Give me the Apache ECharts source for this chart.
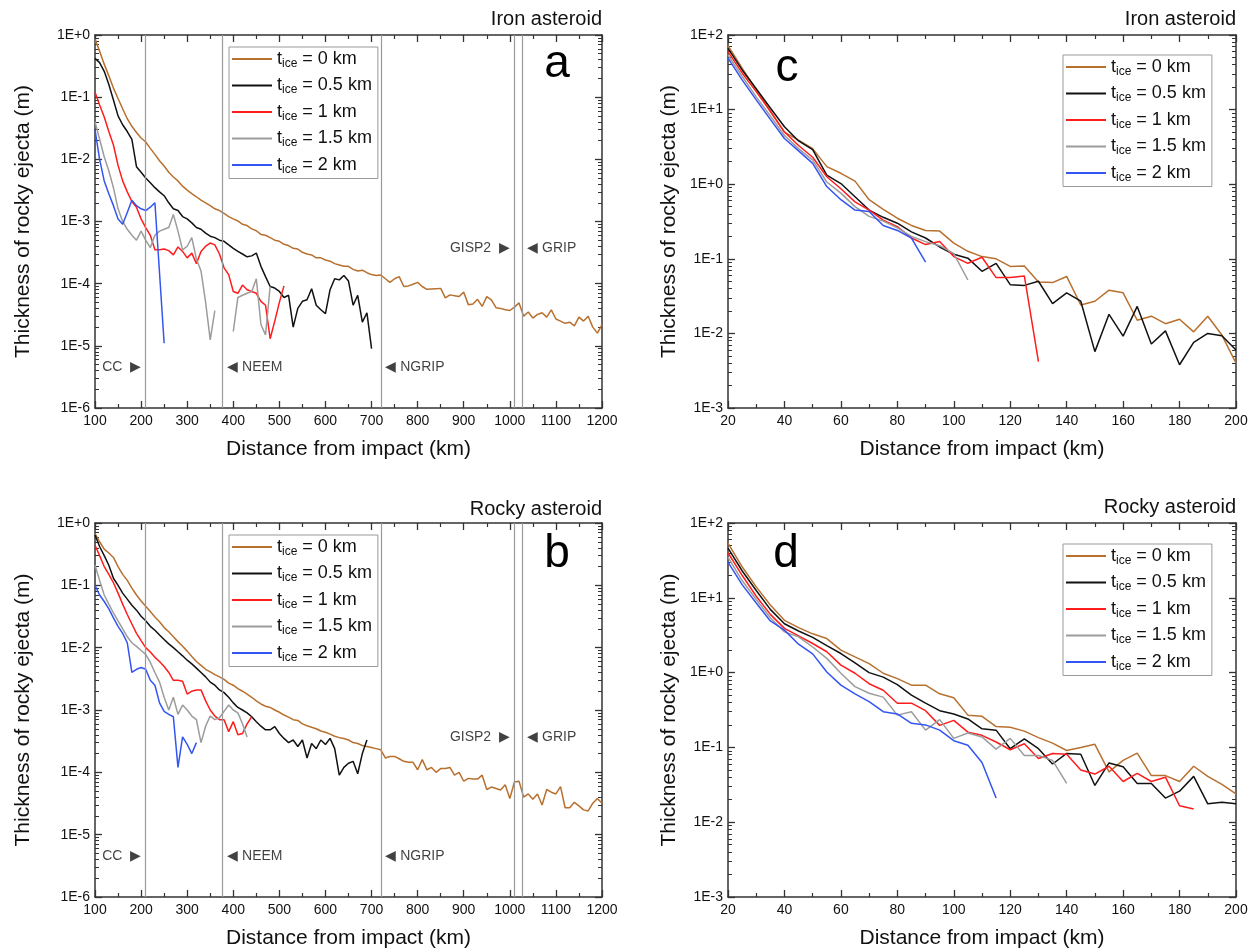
<!DOCTYPE html>
<html>
<head>
<meta charset="utf-8">
<script src="https://cdn.jsdelivr.net/npm/echarts@6/dist/echarts.min.js"></script>
<style>
  html, body { margin: 0; background: #fff; }
  #main { width: 1253px; height: 952px; }
</style>
</head>
<body>
<div id="main"></div>
<script>
// t_ice series names and colours
const iceNames = ['0', '0.5', '1', '1.5', '2'];
const iceColors = ['#B8702F', '#111111', '#FF1C1C', '#9C9C9C', '#3355F2'];

// ice core sites (km from impact) and their labels
const siteKm = [210, 377, 720, 1010, 1028];
const siteText = ['CC  \u25B6', '\u25C0 NEEM', '\u25C0 NGRIP', 'GISP2  \u25B6', '\u25C0 GRIP'];
const siteSide = ['left', 'right', 'right', 'left', 'right'];
const siteY = [4.6e-6, 4.6e-6, 4.6e-6, 3.7e-4, 3.7e-4];

const minorMant = [2, 3, 4, 5, 6, 7, 8, 9];

// ---- panel a : iron asteroid, 100-1200 km ----
const aIce0 = [[100,0.85],[110,0.55],[120,0.34],[130,0.22],[140,0.14],[150,0.095],[160,0.065],[170,0.045],[180,0.034],[190,0.027],[200,0.022],[210,0.019],[220,0.015],[230,0.012],[240,0.0095],[250,0.0078],[260,0.0062],[270,0.0052],[280,0.0045],[290,0.0037],[300,0.0032],[310,0.0028],[320,0.0025],[330,0.0022],[340,0.002],[350,0.0018],[360,0.0016],[370,0.0015],[380,0.00135],[390,0.0012],[400,0.0011],[410,0.00102],[420,0.0009],[430,0.00086],[440,0.00076],[450,0.00071],[460,0.00062],[470,0.0006],[480,0.00055],[490,0.0005],[500,0.00048],[510,0.00043],[520,0.00041],[530,0.00037],[540,0.00036],[550,0.00032],[560,0.0003],[570,0.00029],[580,0.00026],[590,0.00026],[600,0.00024],[610,0.00023],[620,0.00021],[630,0.0002],[640,0.00019],[650,0.00019],[660,0.00017],[670,0.00016],[680,0.000165],[690,0.00015],[700,0.00014],[710,0.000135],[720,0.000138],[730,0.00012],[740,0.000105],[750,0.00012],[760,0.00013],[770,0.00009],[780,0.000092],[790,0.000098],[800,0.000105],[810,0.00009],[820,0.000081],[830,0.000082],[840,0.000083],[850,0.000084],[860,0.000059],[870,0.000066],[880,0.000064],[890,0.000062],[900,0.000073],[910,0.000046],[920,0.000047],[930,0.000056],[940,0.000043],[950,0.000062],[960,0.000055],[970,0.000041],[980,0.00004],[990,0.000038],[1000,0.000037],[1010,0.000042],[1020,0.000049],[1030,0.00003],[1040,0.000035],[1050,0.000028],[1060,0.000032],[1070,0.000034],[1080,0.000029],[1090,0.000038],[1100,0.000027],[1110,0.000025],[1120,0.000023],[1130,0.000024],[1140,0.000021],[1150,0.000029],[1160,0.000025],[1170,0.00003],[1180,0.00002],[1190,0.000016],[1200,0.000022]];
const aIce05 = [[100,0.42],[110,0.36],[120,0.26],[130,0.16],[140,0.09],[150,0.05],[160,0.036],[170,0.028],[180,0.021],[190,0.0076],[200,0.0062],[210,0.005],[220,0.0042],[230,0.0035],[240,0.003],[250,0.0026],[260,0.002],[270,0.0016],[280,0.0015],[290,0.0012],[300,0.0011],[310,0.00095],[320,0.0008],[330,0.00075],[340,0.00065],[350,0.00058],[360,0.00055],[370,0.0005],[380,0.00048],[390,0.00042],[400,0.00037],[410,0.00033],[420,0.0003],[430,0.00027],[440,0.00028],[450,0.00031],[460,0.00019],[470,0.00013],[480,0.00009],[490,0.000085],[500,0.000075],[510,0.00006],[520,0.000065],[530,0.00002],[540,0.00004],[550,0.000052],[560,0.000055],[570,0.000083],[580,0.000045],[590,0.000038],[600,0.000033],[610,0.00008],[620,0.00012],[630,0.000115],[640,0.000135],[650,0.00011],[660,0.000045],[670,0.000065],[680,0.000024],[690,0.000034],[700,0.000009]];
const aIce1 = [[100,0.12],[110,0.075],[120,0.048],[130,0.028],[140,0.017],[150,0.008],[160,0.0045],[170,0.003],[180,0.0021],[190,0.0017],[200,0.0011],[210,0.0008],[220,0.0006],[230,0.00035],[240,0.00035],[250,0.00036],[260,0.00034],[270,0.00029],[280,0.00039],[290,0.00033],[300,0.00026],[310,0.00031],[320,0.00021],[330,0.00033],[340,0.0004],[350,0.00045],[360,0.00042],[370,0.0003],[380,0.00018],[390,0.00014],[400,0.000075],[410,0.00007],[420,0.000095],[430,0.00008],[440,0.000075],[450,0.00007],[460,0.000052],[470,0.000045],[480,0.000013],[490,0.000025],[500,0.00005],[510,0.000092]];
const aIce15 = [[100,0.04],[110,0.021],[120,0.011],[130,0.0065],[140,0.0035],[150,0.0016],[160,0.001],[170,0.00075],[180,0.0006],[190,0.0005],[200,0.0007],[210,0.0005],[220,0.00038],[230,0.0006],[240,0.0007],[250,0.00075],[260,0.0008],[270,0.0013],[280,0.0007],[290,0.00035],[300,0.0004],[310,0.00055],[320,0.00025],[330,0.00016],[340,0.00005],[350,0.0000125],[360,0.000037],[370,'-'],[390,'-'],[400,0.000017],[410,0.00006],[420,0.000065],[430,0.00007],[440,0.000075],[450,0.00012],[460,0.000022],[470,0.000015],[480,0.00009]];
const aIce2 = [[100,0.03],[110,0.01],[120,0.0045],[130,0.0028],[140,0.0018],[150,0.0011],[160,0.0009],[170,0.0014],[180,0.0022],[190,0.0018],[200,0.0016],[210,0.0015],[220,0.0017],[230,0.002],[250,0.000011]];

// ---- panel b : rocky asteroid, 100-1200 km ----
const bIce0 = [[100,0.68],[110,0.5],[120,0.38],[130,0.33],[140,0.28],[150,0.2],[160,0.15],[170,0.12],[180,0.09],[190,0.07],[200,0.056],[210,0.046],[220,0.038],[230,0.031],[240,0.026],[250,0.021],[260,0.018],[270,0.015],[280,0.0125],[290,0.0105],[300,0.0088],[310,0.0072],[320,0.006],[330,0.0052],[340,0.0045],[350,0.0041],[360,0.0037],[370,0.0034],[380,0.0031],[390,0.0027],[400,0.0025],[410,0.0022],[420,0.002],[430,0.0018],[440,0.0016],[450,0.0014],[460,0.00125],[470,0.00115],[480,0.0011],[490,0.001],[500,0.00092],[510,0.00083],[520,0.00077],[530,0.0007],[540,0.00068],[550,0.0006],[560,0.00056],[570,0.00053],[580,0.0005],[590,0.00046],[600,0.00044],[610,0.00041],[620,0.00038],[630,0.00036],[640,0.00035],[650,0.00033],[660,0.0003],[670,0.00029],[680,0.00027],[690,0.00026],[700,0.00025],[710,0.00024],[720,0.00023],[730,0.00017],[740,0.00018],[750,0.00018],[760,0.000165],[770,0.00015],[780,0.000145],[790,0.000145],[800,0.00011],[810,0.00016],[820,0.00011],[830,0.00012],[840,0.0001],[850,0.000115],[860,0.000115],[870,0.00012],[880,0.00009],[890,0.0001],[900,0.000072],[910,0.00008],[920,0.000078],[930,0.000078],[940,0.00009],[950,0.000053],[960,0.000058],[970,0.000055],[980,0.000052],[990,0.000063],[1000,0.000038],[1010,0.00007],[1020,0.000072],[1030,0.00004],[1040,0.000045],[1050,0.000037],[1060,0.000045],[1070,0.00003],[1080,0.000053],[1090,0.000048],[1100,0.000045],[1110,0.000059],[1120,0.000027],[1130,0.000027],[1140,0.000033],[1150,0.000029],[1160,0.000025],[1170,0.000024],[1180,0.000032],[1190,0.000038],[1200,0.000032]];
const bIce05 = [[100,0.64],[110,0.42],[120,0.3],[130,0.21],[140,0.13],[150,0.1],[160,0.075],[170,0.06],[180,0.048],[190,0.04],[200,0.032],[210,0.027],[220,0.022],[230,0.019],[240,0.016],[250,0.0135],[260,0.0115],[270,0.01],[280,0.0086],[290,0.0074],[300,0.0063],[310,0.0055],[320,0.0047],[330,0.004],[340,0.0034],[350,0.0028],[360,0.0025],[370,0.0021],[380,0.0019],[390,0.0016],[400,0.0013],[410,0.0011],[420,0.001],[430,0.0009],[440,0.00078],[450,0.00065],[460,0.00055],[470,0.00048],[480,0.00048],[490,0.00054],[500,0.00042],[510,0.00035],[520,0.0003],[530,0.00033],[540,0.00026],[550,0.00033],[560,0.00017],[570,0.00029],[580,0.00024],[590,0.00033],[600,0.00028],[610,0.00035],[620,0.00024],[630,0.00009],[640,0.00012],[650,0.00014],[660,0.00015],[670,0.000095],[680,0.0002],[690,0.00033]];
const bIce1 = [[100,0.44],[110,0.3],[120,0.2],[130,0.15],[140,0.11],[150,0.075],[160,0.05],[170,0.034],[180,0.024],[190,0.017],[200,0.013],[210,0.01],[220,0.0085],[230,0.007],[240,0.006],[250,0.005],[260,0.004],[270,0.003],[280,0.003],[290,0.0029],[300,0.0018],[310,0.002],[320,0.0021],[330,0.0021],[340,0.0014],[350,0.001],[360,0.0008],[370,0.0007],[380,0.0007],[390,0.00045],[400,0.00065],[410,0.0004],[420,0.00042],[430,0.0006],[440,0.00078]];
const bIce15 = [[100,0.21],[110,0.12],[120,0.07],[130,0.05],[140,0.036],[150,0.027],[160,0.02],[170,0.015],[180,0.012],[190,0.0105],[200,0.009],[210,0.0078],[220,0.0058],[230,0.004],[240,0.0028],[250,0.0016],[260,0.001],[270,0.0016],[280,0.00085],[290,0.0012],[300,0.001],[310,0.0008],[320,0.0007],[330,0.0003],[340,0.00055],[350,0.0008],[360,0.0007],[370,0.00075],[380,0.00095],[390,0.0012],[400,0.001],[410,0.0009],[420,0.0006],[430,0.00037]];
const bIce2 = [[100,0.1],[110,0.07],[120,0.055],[130,0.042],[140,0.03],[150,0.022],[160,0.017],[170,0.012],[180,0.004],[190,0.0045],[200,0.0048],[210,0.0045],[220,0.003],[230,0.0025],[240,0.0013],[250,0.00095],[260,0.00085],[270,0.00078],[280,0.00012],[290,0.00037],[300,0.00028],[310,0.0002],[320,0.0003]];

// ---- panel c : iron asteroid, 20-200 km ----
const cIce0 = [[20,72],[25,36],[30,18.5],[35,9.5],[40,5.0],[45,3.9],[50,3.0],[55,1.72],[60,1.4],[65,1.1],[70,0.62],[75,0.46],[80,0.35],[85,0.28],[90,0.24],[95,0.235],[100,0.162],[105,0.126],[110,0.107],[115,0.1],[120,0.079],[125,0.08],[130,0.049],[135,0.048],[140,0.058],[145,0.024],[150,0.027],[155,0.038],[160,0.035],[165,0.015],[170,0.017],[175,0.0135],[180,0.0155],[185,0.0105],[190,0.017],[195,0.0095],[200,0.004]];
const cIce05 = [[20,66],[25,34],[30,19],[35,10.5],[40,5.9],[45,3.8],[50,2.9],[55,1.32],[60,1.02],[65,0.68],[70,0.45],[75,0.36],[80,0.3],[85,0.23],[90,0.19],[95,0.144],[100,0.115],[105,0.102],[110,0.068],[115,0.087],[120,0.045],[125,0.044],[130,0.05],[135,0.025],[140,0.035],[145,0.027],[150,0.0057],[155,0.018],[160,0.0092],[165,0.023],[170,0.0072],[175,0.0108],[180,0.0038],[185,0.0076],[190,0.01],[195,0.0093],[200,0.006]];
const cIce1 = [[20,60],[25,31],[30,17.4],[35,9.5],[40,5.0],[45,3.3],[50,2.3],[55,1.26],[60,0.87],[65,0.58],[70,0.45],[75,0.33],[80,0.27],[85,0.19],[90,0.155],[95,0.17],[100,0.107],[105,0.087],[110,0.105],[115,0.056],[120,0.056],[125,0.059],[130,0.0042]];
const cIce15 = [[20,54],[25,28],[30,14.8],[35,8.2],[40,4.5],[45,3.0],[50,2.1],[55,1.07],[60,0.76],[65,0.5],[70,0.37],[75,0.32],[80,0.26],[85,0.2],[90,0.17],[95,0.15],[100,0.117],[105,0.052]];
const cIce2 = [[20,49],[25,25],[30,13.5],[35,7.4],[40,4.1],[45,2.8],[50,1.9],[55,0.93],[60,0.62],[65,0.45],[70,0.43],[75,0.28],[80,0.24],[85,0.19],[90,0.09]];

// ---- panel d : rocky asteroid, 20-200 km ----
const dIce0 = [[20,54],[25,26],[30,14],[35,8.0],[40,5.0],[45,4.0],[50,3.3],[55,2.85],[60,2.0],[65,1.62],[70,1.32],[75,0.98],[80,0.83],[85,0.68],[90,0.68],[95,0.52],[100,0.46],[105,0.27],[110,0.26],[115,0.19],[120,0.186],[125,0.165],[130,0.135],[135,0.114],[140,0.091],[145,0.1],[150,0.11],[155,0.047],[160,0.067],[165,0.084],[170,0.042],[175,0.042],[180,0.035],[185,0.056],[190,0.041],[195,0.032],[200,0.024]];
const dIce05 = [[20,46],[25,23],[30,12.5],[35,7.0],[40,4.5],[45,3.6],[50,2.96],[55,2.3],[60,1.8],[65,1.35],[70,1.0],[75,0.87],[80,0.69],[85,0.5],[90,0.39],[95,0.31],[100,0.28],[105,0.24],[110,0.177],[115,0.17],[120,0.096],[125,0.13],[130,0.096],[135,0.06],[140,0.083],[145,0.081],[150,0.031],[155,0.062],[160,0.055],[165,0.033],[170,0.033],[175,0.021],[180,0.026],[185,0.041],[190,0.0176],[195,0.0185],[200,0.0176]];
const dIce1 = [[20,40],[25,20],[30,10.5],[35,6.0],[40,3.9],[45,3.1],[50,2.45],[55,1.9],[60,1.26],[65,0.98],[70,0.71],[75,0.58],[80,0.39],[85,0.39],[90,0.31],[95,0.197],[100,0.23],[105,0.16],[110,0.145],[115,0.118],[120,0.093],[125,0.112],[130,0.071],[135,0.083],[140,0.081],[145,0.05],[150,0.044],[155,0.056],[160,0.035],[165,0.045],[170,0.035],[175,0.04],[180,0.0166],[185,0.015]];
const dIce15 = [[20,35],[25,17],[30,9.5],[35,5.4],[40,3.5],[45,3.0],[50,2.2],[55,1.55],[60,0.98],[65,0.65],[70,0.53],[75,0.47],[80,0.27],[85,0.3],[90,0.17],[95,0.235],[100,0.132],[105,0.156],[110,0.138],[115,0.095],[120,0.132],[125,0.078],[130,0.078],[135,0.067],[140,0.033]];
const dIce2 = [[20,30],[25,15],[30,8.5],[35,4.9],[40,3.7],[45,2.4],[50,1.78],[55,1.02],[60,0.68],[65,0.52],[70,0.41],[75,0.3],[80,0.28],[85,0.21],[90,0.2],[95,0.17],[100,0.123],[105,0.107],[110,0.063],[115,0.021]];

const FONT = '"Liberation Sans", Arial, sans-serif';
const AXC = '#333';

const panels = [
  { grid: { left: 95, top: 35, width: 507, height: 373 }, x: [100, 1200, 100], y: [1e-6, 1], dec: [-6, 0],
    series: [aIce0, aIce05, aIce1, aIce15, aIce2], title: 'Iron asteroid', titleTop: 9,
    letter: 'a', letterPos: [557, 64], legend: { left: 229, top: 47 }, yGap: 61, sites: true },
  { grid: { left: 95, top: 523, width: 507, height: 374 }, x: [100, 1200, 100], y: [1e-6, 1], dec: [-6, 0],
    series: [bIce0, bIce05, bIce1, bIce15, bIce2], title: 'Rocky asteroid', titleTop: 499,
    letter: 'b', letterPos: [557, 554], legend: { left: 229, top: 535 }, yGap: 61, sites: true },
  { grid: { left: 728, top: 35, width: 508, height: 373 }, x: [20, 200, 20], y: [1e-3, 100], dec: [-3, 2],
    series: [cIce0, cIce05, cIce1, cIce15, cIce2], title: 'Iron asteroid', titleTop: 9,
    letter: 'c', letterPos: [787, 68], legend: { left: 1063, top: 55 }, yGap: 48, sites: false },
  { grid: { left: 728, top: 523, width: 508, height: 374 }, x: [20, 200, 20], y: [1e-3, 100], dec: [-3, 2],
    series: [dIce0, dIce05, dIce1, dIce15, dIce2], title: 'Rocky asteroid', titleTop: 497,
    letter: 'd', letterPos: [786, 554], legend: { left: 1063, top: 544 }, yGap: 48, sites: false }
];

function minorTicks(lo, hi) {
  const out = [];
  for (let e = lo; e < hi; e++) {
    minorMant.forEach(m => out.push(Number((m * Math.pow(10, e)).toPrecision(3))));
  }
  return out;
}

function expLabel(v) {
  const e = Math.round(Math.log10(v));
  return '1E' + (e >= 0 ? '+' : '') + e;
}

const grid = [], xAxis = [], yAxis = [], series = [], legend = [], title = [], graphic = [];

panels.forEach((p, i) => {
  grid.push(Object.assign({ outerBoundsMode: 'none', containLabel: false }, p.grid));

  const lineStyle = { color: AXC, width: 1.5 };
  const xBase = {
    gridIndex: i, type: 'value', min: p.x[0], max: p.x[1], interval: p.x[2],
    axisLine: { show: true, lineStyle }, splitLine: { show: false },
    axisTick: { show: true, inside: true, length: 7, lineStyle: { color: AXC, width: 1.3 } },
    minorTick: { show: true, splitNumber: 2, length: 4, lineStyle: { color: AXC, width: 1.2 } }
  };
  xAxis.push(Object.assign({}, xBase, {
    position: 'bottom',
    axisLabel: { fontSize: 14, color: '#111', margin: 6, fontFamily: FONT, formatter: v => String(v) },
    name: 'Distance from impact (km)', nameLocation: 'middle', nameGap: 31,
    nameTextStyle: { fontSize: 21, color: '#111', fontFamily: FONT }
  }));
  xAxis.push(Object.assign({}, xBase, { position: 'top', axisLabel: { show: false } }));

  const yBase = {
    gridIndex: i, type: 'log', logBase: 10, min: p.y[0], max: p.y[1], splitLine: { show: false }
  };
  const yMajorTick = { show: true, inside: true, length: 7, lineStyle: { color: AXC, width: 1.3 } };
  const yMinorTick = { show: true, inside: true, length: 4, customValues: minorTicks(p.dec[0], p.dec[1]),
    lineStyle: { color: AXC, width: 1 } };
  yAxis.push(Object.assign({}, yBase, {
    position: 'left', axisLine: { show: true, lineStyle }, axisTick: yMajorTick,
    axisLabel: { fontSize: 14, color: '#111', margin: 5, fontFamily: FONT, formatter: expLabel },
    name: 'Thickness of rocky ejecta (m)', nameLocation: 'middle', nameGap: p.yGap,
    nameTextStyle: { fontSize: 21, color: '#111', fontFamily: FONT }
  }));
  yAxis.push(Object.assign({}, yBase, {
    position: 'right', axisLine: { show: true, lineStyle }, axisTick: yMajorTick, axisLabel: { show: false }
  }));
  yAxis.push(Object.assign({}, yBase, {
    position: 'left', axisLine: { show: false }, axisTick: yMinorTick, axisLabel: { show: false }
  }));
  yAxis.push(Object.assign({}, yBase, {
    position: 'right', axisLine: { show: false }, axisTick: yMinorTick, axisLabel: { show: false }
  }));

  if (p.sites) {
    series.push({
      type: 'scatter', name: 'sites', xAxisIndex: 2 * i, yAxisIndex: 4 * i,
      symbolSize: 1, itemStyle: { color: 'rgba(0,0,0,0)' }, silent: true, z: 1,
      data: siteKm.map((km, k) => ({
        value: [km, siteY[k]],
        label: { show: true, position: siteSide[k], distance: 4, formatter: siteText[k],
          fontSize: 14, color: '#111', fontFamily: FONT }
      })),
      markLine: {
        silent: true, symbol: ['none', 'none'], label: { show: false },
        lineStyle: { color: '#999', width: 1.2, type: 'solid' },
        data: siteKm.map(km => ({ xAxis: km }))
      }
    });
  }

  p.series.forEach((d, k) => {
    series.push({
      type: 'line', name: iceNames[k], xAxisIndex: 2 * i, yAxisIndex: 4 * i,
      data: d, showSymbol: false, symbol: 'none', connectNulls: false,
      lineStyle: { color: iceColors[k], width: 1.5 }, itemStyle: { color: iceColors[k] },
      z: 3
    });
  });

  legend.push({
    orient: 'vertical', left: p.legend.left, top: p.legend.top,
    data: iceNames.map((n, k) => ({ name: n, icon: 'rect', itemStyle: { color: iceColors[k] } })),
    itemWidth: 40, itemHeight: 2, itemGap: 7, padding: [3, 6, 3, 3],
    borderColor: '#9a9a9a', borderWidth: 1, backgroundColor: '#fff',
    selectedMode: false,
    formatter: n => '{t|t}{s|ice}{t| = ' + n + ' km}',
    textStyle: {
      color: '#111', fontFamily: FONT,
      rich: {
        t: { fontSize: 18, color: '#111', fontFamily: FONT },
        s: { fontSize: 12, color: '#111', fontFamily: FONT, padding: [9, 0, 0, 0] }
      }
    }
  });

  title.push({
    text: p.title, right: 1253 - (p.grid.left + p.grid.width), top: p.titleTop, padding: 0,
    textStyle: { fontSize: 20, fontWeight: 'normal', color: '#111', fontFamily: FONT }
  });

  graphic.push({
    type: 'text', x: p.letterPos[0], y: p.letterPos[1], silent: true,
    style: { text: p.letter, fontSize: 46, fontFamily: FONT, fill: '#000',
      textAlign: 'center', textVerticalAlign: 'middle', verticalAlign: 'middle' }
  });
});

const chart = echarts.init(document.getElementById('main'), null, { renderer: 'canvas' });
chart.setOption({
  animation: false,
  backgroundColor: '#fff',
  grid, xAxis, yAxis, series, legend, title, graphic
});
</script>
</body>
</html>
